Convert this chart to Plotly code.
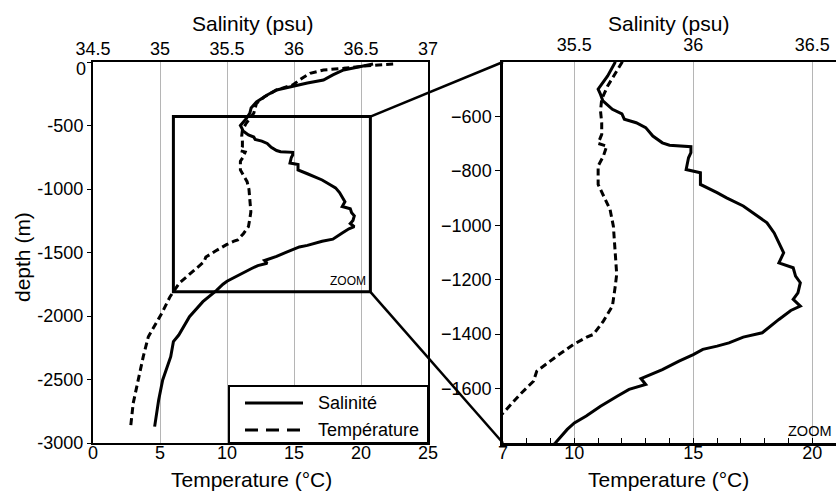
import plotly.graph_objects as go

# ---- profile data -------------------------------------------------------
SAL_DEPTH = [-16, -63, -102, -142, -165, -197, -220, -260, -315, -362, -404, -451,
             -500, -519, -543, -574, -591, -610, -623, -641, -672, -697, -706, -711,
             -733, -752, -795, -807, -850, -880, -899, -929, -966, -991, -1028, -1064,
             -1101, -1138, -1156, -1187, -1211, -1248, -1272, -1297, -1313, -1346,
             -1395, -1411, -1432, -1444, -1456, -1475, -1499, -1530, -1554, -1563,
             -1585, -1603, -1628, -1665, -1701, -1726, -1750, -1800, -1887, -2005,
             -2150, -2202, -2320, -2504, -2661, -2871]
SALINITY = [36.59, 36.37, 36.29, 36.22, 36.10, 35.97, 35.87, 35.80, 35.72, 35.68, 35.67,
            35.64, 35.60, 35.61, 35.62, 35.66, 35.70, 35.71, 35.76, 35.80, 35.83, 35.87,
            35.90, 35.99, 35.99, 35.98, 35.97, 36.03, 36.03, 36.10, 36.14, 36.21, 36.27,
            36.31, 36.34, 36.36, 36.38, 36.36, 36.42, 36.43, 36.45, 36.44, 36.42, 36.45,
            36.41, 36.36, 36.29, 36.21, 36.15, 36.10, 36.04, 36.00, 35.94, 35.87, 35.80,
            35.78, 35.80, 35.73, 35.68, 35.61, 35.55, 35.50, 35.47, 35.42, 35.32, 35.22,
            35.14, 35.10, 35.08, 35.02, 34.99, 34.96]

TEMP_DEPTH = [-16, -29, -50, -63, -89, -128, -181, -220, -273, -325, -402, -445, -488,
              -537, -580, -623, -666, -699, -709, -746, -782, -850, -893, -942, -1003,
              -1101, -1180, -1230, -1297, -1352, -1401, -1411, -1438, -1481, -1536,
              -1573, -1622, -1683, -1740, -1848, -1979, -2163, -2320, -2504, -2687, -2871]
TEMPERATURE = [22.4, 20.5, 18.7, 17.2, 16.2, 15.6, 14.9, 13.7, 12.8, 12.2, 12.0, 11.7,
               11.4, 11.15, 11.1, 11.15, 11.15, 11.0, 11.36, 11.22, 11.0, 11.0, 11.22,
               11.5, 11.64, 11.71, 11.78, 11.71, 11.6, 11.22, 10.8, 10.52, 9.96, 9.26,
               8.42, 8.28, 7.71, 7.08, 6.45, 5.75, 5.13, 4.13, 3.75, 3.38, 3.0, 2.81]

# axis ticks / ranges
FULL_T_TICKS = [0, 5, 10, 15, 20, 25]
FULL_S_TICKS = [34.5, 35, 35.5, 36, 36.5, 37]
FULL_DEPTH_TICKS = [0, -500, -1000, -1500, -2000, -2500, -3000]
ZOOM_T_LABELS = [7, 10, 15, 20]
ZOOM_S_TICKS = [35.5, 36, 36.5]
ZOOM_DEPTH_TICKS = [-600, -800, -1000, -1200, -1400, -1600]

FULL_T_RANGE = [0, 25]
FULL_S_RANGE = [34.5, 37]
FULL_D_RANGE = [-3000, 0]
ZOOM_T_RANGE = [7, 21]
ZOOM_S_RANGE = [35.2, 36.6]
ZOOM_D_RANGE = [-1800, -400]
# zoomed window outlined on the full profile
ZOOM_BOX_T = [6.0, 20.7]
ZOOM_BOX_D = [-430, -1810]

W, H = 836, 493
FONT = "Liberation Sans, Arial, sans-serif"
GRID = "#b5b5b5"

L_DOM = [93 / W, 428 / W]
R_DOM = [503 / W, 1.0]
Y_DOM = [1 - 443 / H, 1 - 62 / H]


def to_paper(v, rng, dom):
    return dom[0] + (v - rng[0]) / (rng[1] - rng[0]) * (dom[1] - dom[0])


solid = dict(color="black", width=3)
dashed = dict(color="black", width=3, dash="7px,4px")

fig = go.Figure()
# full profile
fig.add_trace(go.Scatter(x=SALINITY, y=SAL_DEPTH, mode="lines", line=solid,
                         xaxis="x2", yaxis="y", name="Salinité"))
fig.add_trace(go.Scatter(x=TEMPERATURE, y=TEMP_DEPTH, mode="lines", line=dashed,
                         xaxis="x", yaxis="y", name="Température"))
# zoomed profile
fig.add_trace(go.Scatter(x=SALINITY, y=SAL_DEPTH, mode="lines", line=solid,
                         xaxis="x4", yaxis="y3", name="Salinité"))
fig.add_trace(go.Scatter(x=TEMPERATURE, y=TEMP_DEPTH, mode="lines", line=dashed,
                         xaxis="x3", yaxis="y3", name="Température"))

tickfont = dict(family=FONT, size=18, color="black")

fig.update_layout(
    width=W, height=H, autosize=False,
    margin=dict(l=0, r=0, t=0, b=0),
    paper_bgcolor="white", plot_bgcolor="white",
    showlegend=False,
    font=dict(family=FONT, color="black"),
    xaxis=dict(domain=L_DOM, range=FULL_T_RANGE, anchor="y", side="bottom",
               tickmode="array", tickvals=FULL_T_TICKS, ticks="", showgrid=False,
               showline=True, linecolor="black", linewidth=2, mirror=True,
               zeroline=False, tickfont=tickfont, automargin=False,
               ticklabelstandoff=-8),
    xaxis2=dict(range=FULL_S_RANGE, overlaying="x", anchor="y", side="top",
                tickmode="array", tickvals=FULL_S_TICKS,
                ticktext=[f"{v:g}" for v in FULL_S_TICKS], ticks="",
                showgrid=True, gridcolor=GRID, gridwidth=1, showline=False,
                zeroline=False, tickfont=tickfont, automargin=False,
                ticklabelstandoff=2),
    # the surface label "0" sits just below the top frame, set as its own text
    yaxis=dict(domain=Y_DOM, range=FULL_D_RANGE, anchor="x",
               tickmode="array", tickvals=FULL_DEPTH_TICKS,
               ticktext=["" if v == 0 else str(v) for v in FULL_DEPTH_TICKS],
               ticks="outside", ticklen=4, tickcolor="black", tickwidth=1,
               showgrid=False, showline=True, linecolor="black", linewidth=2,
               mirror=True, zeroline=False, tickfont=tickfont, automargin=False),
    xaxis3=dict(domain=R_DOM, range=ZOOM_T_RANGE, anchor="y3", side="bottom",
                tickmode="array", tickvals=list(range(7, 21)),
                ticktext=[str(v) if v in ZOOM_T_LABELS else "" for v in range(7, 21)],
                ticks="inside", ticklen=5, tickcolor="black", tickwidth=1,
                showgrid=False, showline=True, linecolor="black", linewidth=2.5,
                zeroline=False, tickfont=tickfont, automargin=False,
                ticklabelstandoff=-8),
    xaxis4=dict(range=ZOOM_S_RANGE, overlaying="x3", anchor="y3", side="top",
                tickmode="array", tickvals=ZOOM_S_TICKS,
                ticktext=[f"{v:g}" for v in ZOOM_S_TICKS], ticks="",
                showgrid=True, gridcolor=GRID, gridwidth=1,
                showline=True, linecolor="black", linewidth=2,
                zeroline=False, tickfont=tickfont, automargin=False,
                ticklabelstandoff=2),
    yaxis3=dict(domain=Y_DOM, range=ZOOM_D_RANGE, anchor="x3",
                tickmode="array", tickvals=ZOOM_DEPTH_TICKS,
                ticktext=["\u2212" + str(-v) for v in ZOOM_DEPTH_TICKS],
                ticks="outside", ticklen=5, tickcolor="black", tickwidth=1,
                showgrid=False, showline=True, linecolor="black", linewidth=2.5,
                zeroline=False, tickfont=tickfont, automargin=False),
    yaxis4=dict(range=ZOOM_D_RANGE, overlaying="y3", anchor="x3", side="right",
                tickmode="array", tickvals=ZOOM_DEPTH_TICKS, showticklabels=False,
                ticks="inside", ticklen=4, tickcolor="black", tickwidth=1,
                showgrid=False, showline=False, zeroline=False, automargin=False),
)

# zoom window and the connectors to the zoomed panel
bx0 = to_paper(ZOOM_BOX_T[0], FULL_T_RANGE, L_DOM)
bx1 = to_paper(ZOOM_BOX_T[1], FULL_T_RANGE, L_DOM)
by0 = to_paper(ZOOM_BOX_D[0], FULL_D_RANGE, Y_DOM)
by1 = to_paper(ZOOM_BOX_D[1], FULL_D_RANGE, Y_DOM)
shapes = [
    dict(type="rect", xref="paper", yref="paper", x0=bx0, x1=bx1, y0=by1, y1=by0,
         line=dict(color="black", width=3), layer="above"),
    dict(type="line", xref="paper", yref="paper", x0=bx1, y0=by0,
         x1=R_DOM[0], y1=Y_DOM[1], line=dict(color="black", width=2.5), layer="above"),
    dict(type="line", xref="paper", yref="paper", x0=bx1, y0=by1,
         x1=R_DOM[0], y1=Y_DOM[0], line=dict(color="black", width=2.5), layer="above"),
    # legend frame and samples
    dict(type="rect", xref="paper", yref="paper", x0=229 / W, x1=428 / W,
         y0=1 - 443 / H, y1=1 - 386 / H, fillcolor="white",
         line=dict(color="black", width=2), layer="above"),
    dict(type="line", xref="paper", yref="paper", x0=245 / W, x1=303 / W,
         y0=1 - 403 / H, y1=1 - 403 / H, line=dict(color="black", width=3), layer="above"),
    dict(type="line", xref="paper", yref="paper", x0=245 / W, x1=303 / W,
         y0=1 - 430 / H, y1=1 - 430 / H,
         line=dict(color="black", width=3, dash="13px,8px"), layer="above"),
]

def label(text, px, py, size, xanchor="center", yanchor="middle", angle=0):
    return dict(text=text, x=px / W, y=1 - py / H, xref="paper", yref="paper",
                showarrow=False, xanchor=xanchor, yanchor=yanchor, textangle=angle,
                font=dict(family=FONT, size=size, color="black"))

annotations = [
    label("Salinity (psu)", 252, 23, 21),
    label("Salinity (psu)", 668, 23, 21),
    label("Temperature (°C)", 251, 479, 21),
    label("Temperature (°C)", 668, 479, 21),
    label("depth (m)", 22, 257, 21, angle=-90),
    label("0", 88, 69, 18, xanchor="right"),
    label("ZOOM", 368, 290, 12, xanchor="right", yanchor="bottom"),
    label("ZOOM", 834, 441, 14.5, xanchor="right", yanchor="bottom"),
    label("Salinité", 316, 403, 18, xanchor="left"),
    label("Température", 316, 430, 18, xanchor="left"),
]

fig.update_layout(shapes=shapes, annotations=annotations)
fig.write_html("out.html")
